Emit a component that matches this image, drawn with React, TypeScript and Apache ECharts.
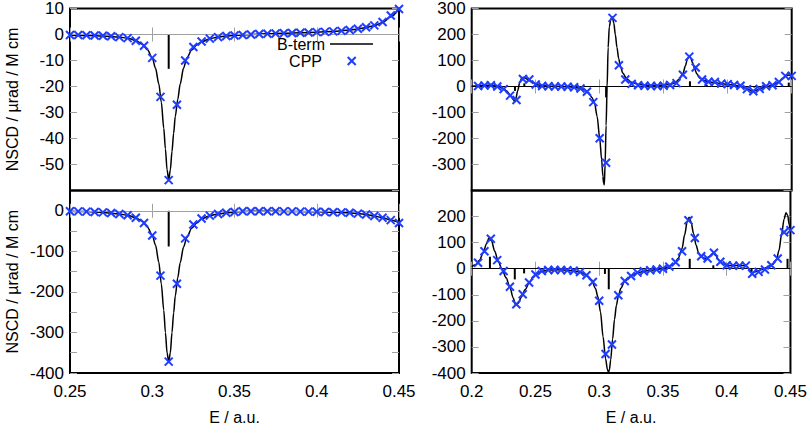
import React, { useEffect, useRef } from 'react';
import * as echarts from 'echarts';

const FONT = '"Liberation Sans", Arial, Helvetica, sans-serif';
const BLUE = '#1f3dff';
const GRAY = '#a0a0a0';

// ---------- CPP sample energies ----------
const LEFT_CPP_X = [0.25, 0.255, 0.26, 0.265, 0.27, 0.275, 0.28, 0.285, 0.29, 0.295, 0.3, 0.305, 0.31, 0.315, 0.32, 0.325, 0.33, 0.335, 0.34, 0.345, 0.35, 0.355, 0.36, 0.365, 0.37, 0.375, 0.38, 0.385, 0.39, 0.395, 0.4, 0.405, 0.41, 0.415, 0.42, 0.425, 0.43, 0.435, 0.44, 0.445, 0.45];
const RIGHT_CPP_X = [0.205, 0.21, 0.215, 0.22, 0.225, 0.23, 0.235, 0.24, 0.245, 0.25, 0.255, 0.26, 0.265, 0.27, 0.275, 0.28, 0.285, 0.29, 0.295, 0.3, 0.305, 0.31, 0.315, 0.32, 0.325, 0.33, 0.335, 0.34, 0.345, 0.35, 0.355, 0.36, 0.365, 0.37, 0.375, 0.38, 0.385, 0.39, 0.395, 0.4, 0.405, 0.41, 0.415, 0.42, 0.425, 0.43, 0.435, 0.44, 0.445, 0.45];

// ---------- CPP values ----------
const TL_CPP = [-0.2, -0.2, -0.3, -0.4, -0.5, -0.7, -1.0, -1.4, -2.4, -4.3, -9, -24, -56, -27, -10, -4.8, -2.7, -1.6, -1.0, -0.6, -0.4, -0.2, 0, 0.2, 0.3, 0.4, 0.5, 0.6, 0.7, 0.8, 0.9, 1.0, 1.2, 1.4, 1.7, 2.2, 2.8, 3.5, 4.8, 7.3, 9.8];
const BL_CPP = [-1, -1.5, -2, -3, -4, -5.5, -8, -11, -17, -30, -61, -160, -372, -180, -68, -34, -19, -12, -8, -5, -3, -1, -1, -1, -1, -1, -1.5, -1.5, -2, -2, -2.5, -3, -3.5, -4, -5, -7, -9, -13, -17, -23, -30];
const TR_CPP = [2, 4, 5, 0, -10, -35, -52, 29, 27, 8, 2, 1, 0, 0, -1, -3, -8, -20, -60, -199, -293, 264, 82, 27, 10, 5, 3, 2, 2, 3, 6, 13, 45, 115, 73, 27, 18, 17, 11, 9, 6, 3, -10, -18, -9, 1, 5, 17, 41, 41];
const BR_CPP = [23, 67, 115, 33, -9, -69, -136, -98, -53, -22, -9, -5, -5, -5, -6, -8, -13, -25, -51, -123, -327, -291, -102, -47, -28, -15, -10, -6, -3, 0, 8, 25, 67, 186, 118, 48, 39, 61, 27, 13, 12, 12, 12, -19, -12, -3, 13, 39, 140, 148];

// ---------- B-term curves ----------
const TL_CURVE_X = [0.25, 0.26, 0.27, 0.28, 0.285, 0.29, 0.294, 0.297, 0.3, 0.302, 0.304, 0.3055, 0.307, 0.308, 0.309, 0.31, 0.311, 0.312, 0.313, 0.314, 0.3155, 0.317, 0.319, 0.321, 0.324, 0.327, 0.33, 0.335, 0.34, 0.345, 0.35, 0.36, 0.37, 0.38, 0.39, 0.4, 0.41, 0.42, 0.425, 0.43, 0.435, 0.44, 0.445, 0.45];
const TL_CURVE_Y = [-0.3, -0.4, -0.6, -1.0, -1.4, -2.3, -3.8, -5.8, -9, -13, -19, -26, -36, -44, -52, -56, -52, -45, -38, -31.5, -25, -19, -13, -9, -6, -4, -2.8, -1.6, -1.0, -0.6, -0.3, 0, 0.3, 0.5, 0.7, 0.9, 1.2, 1.7, 2.1, 2.7, 3.4, 4.6, 6.8, 9.9];

const BL_CURVE_X = [0.25, 0.26, 0.27, 0.28, 0.285, 0.29, 0.294, 0.297, 0.3, 0.302, 0.304, 0.3055, 0.307, 0.308, 0.309, 0.31, 0.311, 0.312, 0.313, 0.314, 0.3155, 0.317, 0.319, 0.321, 0.324, 0.327, 0.33, 0.335, 0.34, 0.345, 0.35, 0.36, 0.37, 0.38, 0.39, 0.4, 0.41, 0.42, 0.425, 0.43, 0.435, 0.44, 0.445, 0.45];
const BL_CURVE_Y = [-1, -2, -4, -8, -11, -17, -26, -40, -60, -85, -127, -180, -245, -300, -350, -373, -350, -300, -252, -210, -165, -128, -90, -66, -43, -30, -20, -12, -8, -5, -3, -1, -1, -1.5, -2, -2.5, -3.5, -5, -7, -9, -13, -17, -23, -30];

const TR_CURVE_X = [0.2, 0.205, 0.21, 0.215, 0.218, 0.221, 0.224, 0.227, 0.23, 0.2325, 0.2335, 0.2345, 0.236, 0.2375, 0.239, 0.2405, 0.242, 0.245, 0.248, 0.252, 0.256, 0.262, 0.27, 0.276, 0.28, 0.284, 0.288, 0.291, 0.294, 0.296, 0.298, 0.3, 0.3015, 0.3025, 0.303, 0.3036, 0.3042, 0.305, 0.3058, 0.3066, 0.3075, 0.3088, 0.3098, 0.311, 0.3122, 0.3135, 0.3148, 0.3162, 0.318, 0.321, 0.325, 0.33, 0.335, 0.34, 0.345, 0.35, 0.355, 0.359, 0.362, 0.365, 0.367, 0.3685, 0.3698, 0.371, 0.3725, 0.374, 0.376, 0.378, 0.381, 0.385, 0.39, 0.395, 0.4, 0.405, 0.41, 0.414, 0.417, 0.4195, 0.422, 0.425, 0.43, 0.435, 0.44, 0.443, 0.446, 0.448, 0.45];
const TR_CURVE_Y = [1, 3, 4, 5, 4, 0, -6, -16, -32, -50, -58, -45, -15, 15, 32, 36, 32, 22, 13, 6, 3, 1, 0, -1, -3, -6, -12, -22, -42, -65, -115, -200, -280, -345, -370, -378, -300, -150, 0, 150, 230, 262, 268, 245, 200, 150, 108, 78, 52, 30, 16, 8, 5, 4, 4, 5, 8, 14, 28, 50, 80, 105, 117, 112, 92, 70, 48, 33, 24, 18, 15, 11, 8, 5, 1, -6, -13, -19, -15, -9, -1, 6, 17, 30, 42, 44, 41];

const BR_CURVE_X = [0.2, 0.203, 0.206, 0.209, 0.2115, 0.2135, 0.2155, 0.218, 0.221, 0.224, 0.227, 0.23, 0.2325, 0.2345, 0.2365, 0.239, 0.242, 0.245, 0.248, 0.251, 0.255, 0.26, 0.27, 0.28, 0.285, 0.29, 0.294, 0.297, 0.299, 0.301, 0.303, 0.305, 0.3065, 0.3073, 0.308, 0.309, 0.3105, 0.312, 0.3135, 0.315, 0.317, 0.32, 0.325, 0.33, 0.335, 0.34, 0.345, 0.35, 0.355, 0.359, 0.362, 0.365, 0.367, 0.369, 0.3705, 0.372, 0.374, 0.376, 0.378, 0.3805, 0.3835, 0.3865, 0.3895, 0.3915, 0.394, 0.397, 0.4, 0.405, 0.41, 0.414, 0.416, 0.4185, 0.4195, 0.4215, 0.424, 0.428, 0.432, 0.436, 0.439, 0.441, 0.443, 0.445, 0.4465, 0.4478, 0.449, 0.45];
const BR_CURVE_Y = [8, 15, 32, 60, 95, 118, 108, 68, 25, -5, -35, -72, -112, -140, -132, -108, -80, -55, -35, -20, -10, -5, -4, -8, -13, -24, -42, -75, -108, -165, -260, -345, -388, -397, -388, -350, -270, -195, -140, -105, -75, -48, -28, -16, -10, -6, -3, 1, 8, 20, 40, 78, 130, 180, 197, 180, 135, 90, 60, 45, 38, 47, 61, 50, 32, 18, 13, 12, 12, 12, 8, -8, -18, -14, -9, -2, 6, 16, 35, 70, 130, 190, 215, 205, 170, 140];

// ---------- B-term sticks ----------
const TL_STICK_X = [0.31];
const TL_STICK_Y = [-13.2];
const BL_STICK_X = [0.31];
const BL_STICK_Y = [-88];
const TR_STICK_X = [0.2338, 0.2411, 0.305, 0.3705, 0.3836, 0.4207, 0.4477];
const TR_STICK_Y = [-17, 12, -42, 20, 6, -4, 15];
const BR_STICK_X = [0.2143, 0.2338, 0.2411, 0.3045, 0.3075, 0.371, 0.3895, 0.4195, 0.4477];
const BR_STICK_Y = [46, -41, -18, -20, -79, 38, 13, -15, 38];

// ---------- axis ranges / ticks ----------
const LEFT_X = { min: 0.25, max: 0.45, interval: 0.05 };
const RIGHT_X = { min: 0.2, max: 0.45, interval: 0.05 };
const Y_RANGES = [
  { min: -60, max: 10, interval: 10 },
  { min: -400, max: 50, interval: 50 },
  { min: -400, max: 300, interval: 100 },
  { min: -400, max: 300, interval: 100 },
];

const Y_TITLE = 'NSCD / µrad / M cm';
const X_TITLE = 'E / a.u.';

const zip = (xs: number[], ys: number[]) => xs.map((x, i) => [x, ys[i]]);

export default function App() {
  const ref = useRef<HTMLDivElement>(null);

  useEffect(() => {
    if (!ref.current) return;
    const chart = echarts.init(ref.current, null, { renderer: 'svg' });

    const grids = [
      { left: 70, top: 6, width: 329, height: 184.5 },
      { left: 70, top: 190.5, width: 329, height: 183.5 },
      { left: 471.7, top: 6, width: 320, height: 184.5 },
      { left: 471.7, top: 190.5, width: 320, height: 183.5 },
    ].map((g) => ({ ...g, show: true, borderColor: '#000', borderWidth: 2, containLabel: false }));

    const tick = { show: true, inside: true, length: 7, lineStyle: { color: GRAY, width: 1 } };
    const labelStyle = { fontFamily: FONT, fontSize: 17, color: '#000' };
    const titleStyle = { fontFamily: FONT, fontSize: 16, color: '#000' };
    const xFmt = (v: number) => String(Number(v.toFixed(2)));

    const xAxes: any[] = [];
    const yAxes: any[] = [];
    for (let i = 0; i < 4; i++) {
      const xr = i < 2 ? LEFT_X : RIGHT_X;
      const bottomPanel = i === 1 || i === 3;
      xAxes.push({
        type: 'value', gridIndex: i, position: 'bottom', ...xr,
        axisLine: { show: false }, axisTick: tick, splitLine: { show: false },
        axisLabel: { show: bottomPanel, margin: 10, formatter: xFmt, ...labelStyle },
        name: bottomPanel ? X_TITLE : '', nameLocation: 'middle', nameGap: 36,
        nameTextStyle: titleStyle,
      });
    }
    for (let i = 0; i < 4; i++) {
      const xr = i < 2 ? LEFT_X : RIGHT_X;
      xAxes.push({
        type: 'value', gridIndex: i, position: 'top', ...xr,
        axisLine: { show: false }, axisTick: tick, splitLine: { show: false },
        axisLabel: { show: false },
      });
    }
    for (let i = 0; i < 4; i++) {
      const yr = Y_RANGES[i];
      const leftPanel = i < 2;
      let formatter: any = undefined;
      if (i === 1) formatter = (v: number) => (v % 100 === 0 && v <= 0 ? String(v) : '');
      yAxes.push({
        type: 'value', gridIndex: i, position: 'left', ...yr,
        axisLine: { show: false }, axisTick: tick, splitLine: { show: false },
        axisLabel: {
          show: true, margin: 6, ...labelStyle, formatter,
          showMinLabel: i === 0 || i === 2 ? false : undefined,
          showMaxLabel: i === 3 || i === 1 ? false : undefined,
        },
        name: leftPanel ? Y_TITLE : '', nameLocation: 'middle', nameGap: 50,
        nameTextStyle: titleStyle,
      });
    }
    for (let i = 0; i < 4; i++) {
      yAxes.push({
        type: 'value', gridIndex: i, position: 'right', ...Y_RANGES[i],
        axisLine: { show: false }, axisTick: tick, splitLine: { show: false },
        axisLabel: { show: false },
      });
    }

    const curves = [
      zip(TL_CURVE_X, TL_CURVE_Y), zip(BL_CURVE_X, BL_CURVE_Y),
      zip(TR_CURVE_X, TR_CURVE_Y), zip(BR_CURVE_X, BR_CURVE_Y),
    ];
    const sticks = [
      zip(TL_STICK_X, TL_STICK_Y), zip(BL_STICK_X, BL_STICK_Y),
      zip(TR_STICK_X, TR_STICK_Y), zip(BR_STICK_X, BR_STICK_Y),
    ];
    const cpp = [
      zip(LEFT_CPP_X, TL_CPP), zip(LEFT_CPP_X, BL_CPP),
      zip(RIGHT_CPP_X, TR_CPP), zip(RIGHT_CPP_X, BR_CPP),
    ];

    const series: any[] = [];
    for (let i = 0; i < 4; i++) {
      series.push({
        type: 'line', name: 'B-term', xAxisIndex: i, yAxisIndex: i,
        data: curves[i], showSymbol: false, symbol: 'none',
        smooth: 0.3, smoothMonotone: 'x',
        lineStyle: { color: '#000', width: 1.5 }, z: 3,
        markLine: {
          silent: true, symbol: ['none', 'none'], label: { show: false },
          lineStyle: { color: i < 2 ? GRAY : '#000', width: 1.2, type: 'solid' },
          data: [{ yAxis: 0 }],
        },
      });
      series.push({
        type: 'custom', name: 'sticks', xAxisIndex: i, yAxisIndex: i,
        data: sticks[i], encode: { x: 0, y: 1 }, z: 4,
        renderItem: (_p: any, api: any) => {
          const a = api.coord([api.value(0), 0]);
          const b = api.coord([api.value(0), api.value(1)]);
          return {
            type: 'line',
            shape: { x1: a[0], y1: a[1], x2: b[0], y2: b[1] },
            style: { stroke: '#000', lineWidth: 2 },
          };
        },
      });
      series.push({
        type: 'scatter', name: 'CPP', xAxisIndex: i, yAxisIndex: i,
        data: cpp[i], symbol: 'path://M0 0L10 10M10 0L0 10', symbolSize: 8,
        itemStyle: { color: 'none', borderColor: BLUE, borderWidth: 2, opacity: 1 }, z: 5,
      });
    }

    const legendFont = `16px ${FONT}`;
    const graphic = [
      { type: 'text', x: 325, y: 44, style: { text: 'B-term', font: legendFont, fill: '#000', align: 'right', verticalAlign: 'middle' } },
      { type: 'line', shape: { x1: 330, y1: 44, x2: 373, y2: 44 }, style: { stroke: '#000', lineWidth: 1.5 } },
      { type: 'text', x: 322, y: 61, style: { text: 'CPP', font: legendFont, fill: '#000', align: 'right', verticalAlign: 'middle' } },
      { type: 'line', shape: { x1: 347.7, y1: 57, x2: 355.7, y2: 65 }, style: { stroke: BLUE, lineWidth: 2 } },
      { type: 'line', shape: { x1: 347.7, y1: 65, x2: 355.7, y2: 57 }, style: { stroke: BLUE, lineWidth: 2 } },
    ];

    chart.setOption({
      animation: false,
      backgroundColor: '#fff',
      textStyle: { fontFamily: FONT },
      grid: grids,
      xAxis: xAxes,
      yAxis: yAxes,
      series,
      graphic,
    });

    return () => chart.dispose();
  }, []);

  return <div ref={ref} style={{ position: 'fixed', left: 0, top: 0, width: 810, height: 426 }} />;
}
